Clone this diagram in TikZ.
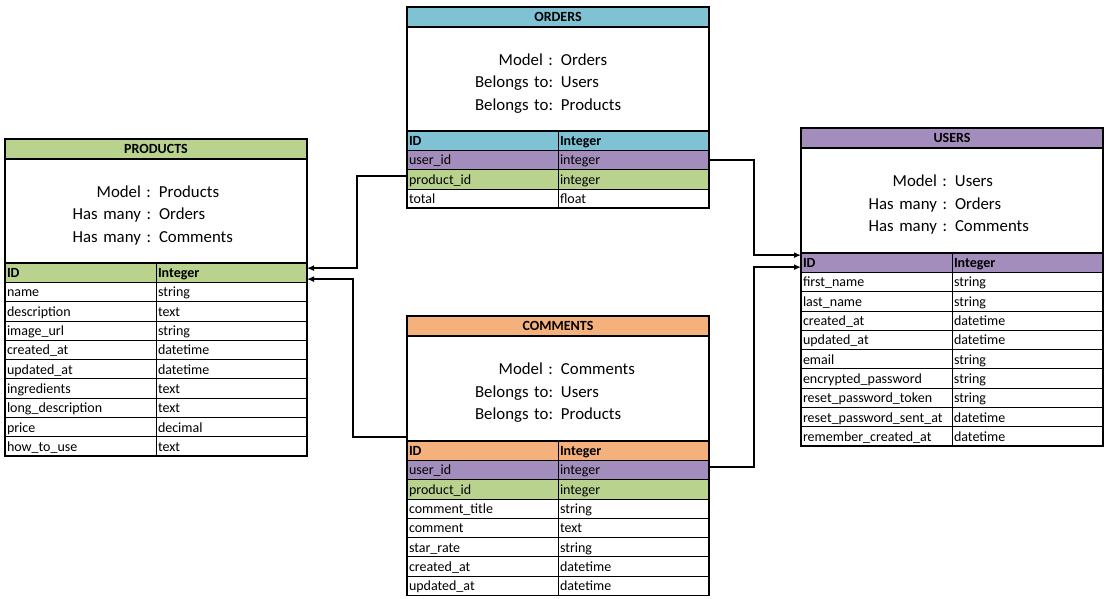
\documentclass[tikz,border=0pt]{standalone}
\usepackage{fontspec}
\setmainfont{Carlito}
\usetikzlibrary{positioning, calc, arrows.meta}

\definecolor{prodgreen}{HTML}{B9D38F}
\definecolor{ordblue}{HTML}{7EC2D4}
\definecolor{usrpurple}{HTML}{A38DBC}
\definecolor{comorange}{HTML}{F4B17C}

\newcommand{\field}[2]{\makebox[151pt][l]{#1}#2}
\newcommand{\rel}[2]{\makebox[146pt][r]{#1}\hspace{8pt}\makebox[148pt][l]{#2}}

\begin{document}
\begin{tikzpicture}[
            x=1pt, y=-1pt,
            % styles
            title/.style={rectangle, anchor=north west, minimum width=302pt, minimum height=20pt, inner sep=0pt, outer sep=0pt, draw=black, line width=0.8pt, font=\fontsize{14}{16}\selectfont\bfseries},
            desc/.style={rectangle, minimum width=302pt, minimum height=104pt, text width=302pt, inner sep=0pt, outer sep=0pt, draw=black, line width=0.8pt, align=left, font=\fontsize{16.8}{22.5}\selectfont},
            row/.style={rectangle, minimum width=302pt, minimum height=19.3pt, text width=298pt, inner xsep=2pt, inner ysep=0pt, outer sep=0pt, text height=11.5pt, text depth=1.5pt, draw=black, line width=0.8pt, align=left, font=\fontsize{14}{16}\selectfont},
            head/.style={row, font=\fontsize{14}{16}\selectfont\bfseries},
            frame/.style={draw=black, line width=1.8pt},
            link/.style={draw=black, line width=1.6pt, -{Latex[length=7pt,width=6pt]}}
        ]
        \useasboundingbox (0,0) rectangle (1114,598);

        % products
        \node (prod-title) [title, fill=prodgreen] at (5,139) {PRODUCTS};
        \node (prod-desc)  [desc, below=0pt of prod-title] {\rule{0pt}{20pt}\rel{Model :}{Products}\\ \rel{Has many :}{Orders}\\ \rel{Has many :}{Comments}};
        \node (prod-r0)    [head, fill=prodgreen, below=0pt of prod-desc] {\field{ID}{Integer}};
        \foreach \f/\ty [count=\i] in {name/string, description/text, image\_url/string, created\_at/datetime, updated\_at/datetime, ingredients/text, long\_description/text, price/decimal, how\_to\_use/text} {
            \pgfmathtruncatemacro\j{\i-1}
            \node (prod-r\i) [row, below=0pt of prod-r\j] {\field{\f}{\ty}};
        }

        % orders
        \node (ord-title) [title, fill=ordblue] at (407,7) {ORDERS};
        \node (ord-desc)  [desc, below=0pt of ord-title] {\rule{0pt}{20pt}\rel{Model :}{Orders}\\ \rel{Belongs to:}{Users}\\ \rel{Belongs to:}{Products}};
        \node (ord-r0)    [head, fill=ordblue, below=0pt of ord-desc] {\field{ID}{Integer}};
        \foreach \f/\ty/\c [count=\i] in {user\_id/integer/usrpurple, product\_id/integer/prodgreen, total/float/white} {
            \pgfmathtruncatemacro\j{\i-1}
            \node (ord-r\i) [row, fill=\c, below=0pt of ord-r\j] {\field{\f}{\ty}};
        }

        % comments
        \node (com-title) [title, fill=comorange] at (407,316) {COMMENTS};
        \node (com-desc)  [desc, minimum height=105pt, below=0pt of com-title] {\rule{0pt}{20pt}\rel{Model :}{Comments}\\ \rel{Belongs to:}{Users}\\ \rel{Belongs to:}{Products}};
        \node (com-r0)    [head, fill=comorange, below=0pt of com-desc] {\field{ID}{Integer}};
        \foreach \f/\ty/\c [count=\i] in {user\_id/integer/usrpurple, product\_id/integer/prodgreen, comment\_title/string/white, comment/text/white, star\_rate/string/white, created\_at/datetime/white, updated\_at/datetime/white} {
            \pgfmathtruncatemacro\j{\i-1}
            \node (com-r\i) [row, fill=\c, below=0pt of com-r\j] {\field{\f}{\ty}};
        }

        % users
        \node (usr-title) [title, fill=usrpurple] at (801,128) {USERS};
        \node (usr-desc)  [desc, minimum height=105pt, below=0pt of usr-title] {\rule{0pt}{20pt}\rel{Model :}{Users}\\ \rel{Has many :}{Orders}\\ \rel{Has many :}{Comments}};
        \node (usr-r0)    [head, fill=usrpurple, below=0pt of usr-desc] {\field{ID}{Integer}};
        \foreach \f/\ty [count=\i] in {first\_name/string, last\_name/string, created\_at/datetime, updated\_at/datetime, email/string, encrypted\_password/string, reset\_password\_token/string, reset\_password\_sent\_at/datetime, remember\_created\_at/datetime} {
            \pgfmathtruncatemacro\j{\i-1}
            \node (usr-r\i) [row, below=0pt of usr-r\j] {\field{\f}{\ty}};
        }

        % table frames and column dividers
        \foreach \t/\l in {prod/9, ord/3, com/7, usr/9} {
            \draw [frame] (\t-title.north west) rectangle (\t-r\l.south east);
            \draw [frame] (\t-title.south west) -- (\t-title.south east);
            \draw [frame] (\t-desc.south west) -- (\t-desc.south east);
            \draw [black, line width=0.8pt] (\t-r0.north) -- (\t-r\l.south);
        }

        % foreign keys to products
        \draw [link] ([yshift=3pt]ord-r2.west) -- ++(-50,0) |- ([yshift=4.5pt]prod-r0.east);
        \draw [link] ([yshift=4pt]com-desc.south west) -- ++(-54,0) |- ([yshift=-6.5pt]prod-r0.east);

        % foreign keys to users
        \draw [link] (ord-r1.east) -- ++(45,0) |- ([yshift=7.5pt]usr-r0.west);
        \draw [link] ([yshift=3pt]com-r1.east) -- ++(45,0) |- ([yshift=-4.5pt]usr-r0.west);

        \end{tikzpicture}
\end{document}
